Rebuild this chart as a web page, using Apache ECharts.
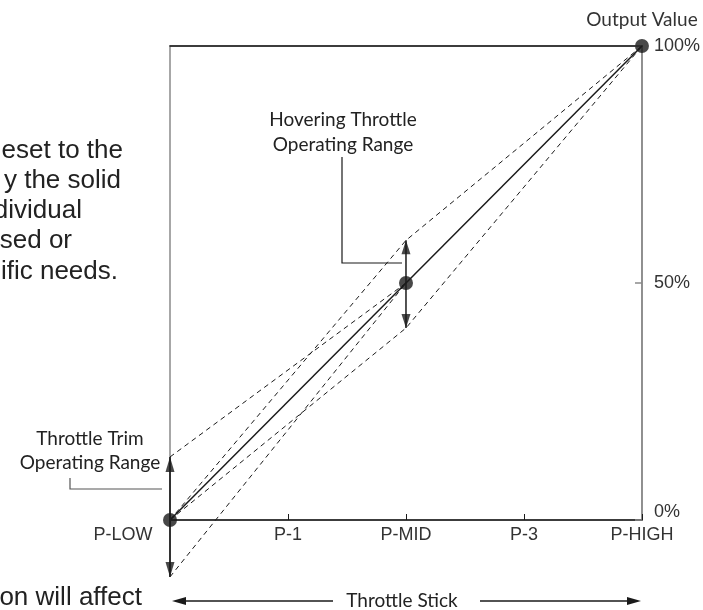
<!DOCTYPE html>
<html>
<head>
<meta charset="utf-8">
<script src="https://cdn.jsdelivr.net/npm/echarts@6/dist/echarts.min.js"></script>
<style>
  html, body { margin: 0; padding: 0; background: #fff; }
  #main { width: 703px; height: 610px; }
</style>
</head>
<body>
<div id="main"></div>
<script>
  // stick positions (x axis) and output ticks (y axis)
  const stickLabels = ['P-LOW', 'P-1', 'P-MID', 'P-3', 'P-HIGH'];
  const outputTicks = { 0: '0%', 50: '50%', 100: '100%' };

  // curves: [stick index, output %]
  const presetCurve = [[0, 0], [4, 100]];
  const curvePoints = [[0, 0], [2, 50], [4, 100]];
  const hoverUpCurve = [[0, 0], [2, 59], [4, 100]];
  const hoverDownCurve = [[0, 0], [2, 40.5], [4, 100]];
  const trimUpCurve = [[0, 13.3], [2, 50]];
  const trimDownCurve = [[0, -12], [2, 50]];

  // operating ranges (arrow ends)
  const hoverRange = [40.5, 59];   // at P-MID
  const trimRange = [-12, 13.3];   // at P-LOW

  const ink = '#1a1a1a';
  const labelFont = 'Lato, "Liberation Sans", sans-serif';
  const axisFont = '"Liberation Sans", Arial, sans-serif';
  const bodyFont = '26px "Liberation Sans", Arial, sans-serif';

  const chart = echarts.init(document.getElementById('main'));

  const dashed = (data) => ({
    type: 'line', data: data, showSymbol: false, clip: false, silent: true,
    lineStyle: { color: ink, width: 1, type: [5, 4] }, z: 3
  });

  const tip = (x, y, up, w, h) => ({
    value: [x, y],
    symbolSize: [w, h],
    symbolRotate: up ? 0 : 180,
    symbolOffset: [0, up ? '50%' : '-50%']
  });

  // paragraph fragments, right edge + centre y
  const bodyText = (text, x, y) => ({
    type: 'text', x: x, y: y,
    style: { text: text, align: 'right', verticalAlign: 'middle', font: bodyFont, fill: '#222' }
  });
  const label = (text, x, y) => ({
    type: 'text', x: x, y: y,
    style: { text: text, align: 'center', verticalAlign: 'middle', font: '19px ' + labelFont, fill: '#222' }
  });

  const option = {
    animation: false,
    grid: { left: 170, right: 60, top: 46, bottom: 90, show: true, borderColor: '#8a8a8a', borderWidth: 1.5 },
    xAxis: [{
      type: 'value', min: 0, max: 4, interval: 1,
      axisLine: { onZero: false, lineStyle: { color: ink, width: 1.5 } },
      axisTick: { inside: true, length: 6, lineStyle: { color: ink, width: 1 } },
      splitLine: { show: false },
      axisLabel: {
        margin: 6, fontSize: 18, color: '#333', fontFamily: axisFont,
        formatter: v => v === 0 ? '{lo|' + stickLabels[0] + '}' : stickLabels[v],
        rich: { lo: { fontSize: 18, color: '#333', fontFamily: axisFont, padding: [0, 94, 0, 0] } }
      }
    }, {
      type: 'value', min: 0, max: 4, position: 'top',
      axisLine: { onZero: false, lineStyle: { color: ink, width: 1.5 } },
      axisTick: { show: false }, axisLabel: { show: false }, splitLine: { show: false }
    }],
    yAxis: {
      type: 'value', min: 0, max: 100, interval: 50, position: 'right',
      name: 'Output Value', nameLocation: 'end', nameGap: 17,
      nameTextStyle: { fontSize: 19, color: '#333', fontFamily: labelFont, align: 'center' },
      axisLine: { show: true, onZero: false, lineStyle: { color: '#8a8a8a', width: 1.5 } },
      axisTick: { show: true, inside: true, length: 7, lineStyle: { color: '#8a8a8a', width: 1.5 } },
      splitLine: { show: false },
      axisLabel: {
        margin: 12, fontSize: 18, color: '#333', fontFamily: axisFont,
        formatter: v => v === 0 ? '{lo|' + outputTicks[0] + '}' : outputTicks[v],
        rich: { lo: { fontSize: 18, color: '#333', fontFamily: axisFont, padding: [0, 0, 16, 0] } }
      }
    },
    series: [
      dashed(hoverUpCurve),
      dashed(hoverDownCurve),
      dashed(trimUpCurve),
      dashed(trimDownCurve),
      {
        type: 'line', data: presetCurve, showSymbol: false, clip: false, silent: true,
        lineStyle: { color: ink, width: 1.5 }, z: 4
      },
      {
        type: 'line', data: [[2, hoverRange[0]], [2, hoverRange[1]]], showSymbol: false, clip: false,
        lineStyle: { color: ink, width: 1.5 }, z: 5
      },
      {
        type: 'line', data: [[0, trimRange[0]], [0, trimRange[1]]], showSymbol: false, clip: false,
        lineStyle: { color: '#333', width: 2 }, z: 5
      },
      {
        type: 'scatter', clip: false, symbol: 'triangle', z: 6,
        itemStyle: { color: ink },
        data: [
          tip(2, hoverRange[1], true, 9, 14), tip(2, hoverRange[0], false, 9, 14),
          tip(0, trimRange[1], true, 9, 15), tip(0, trimRange[0], false, 9, 15)
        ]
      },
      {
        type: 'scatter', clip: false, symbol: 'circle', symbolSize: 14, z: 7,
        itemStyle: { color: ink }, data: curvePoints
      }
    ],
    graphic: [
      // paragraph text cut off at the left edge
      bodyText('eset to the', 123, 151),
      bodyText('y the solid', 121, 181),
      bodyText('dividual', 82, 211),
      bodyText('sed or', 72, 241),
      bodyText('ific needs.', 118, 272),
      bodyText('on will affect', 142, 598),

      // hovering throttle label + leader
      label('Hovering Throttle', 343, 120),
      label('Operating Range', 343, 145),
      { type: 'polyline', shape: { points: [[342, 157], [342, 263], [402, 263]] }, style: { stroke: ink, lineWidth: 1.2, fill: null } },

      // throttle trim label + leader
      label('Throttle Trim', 90, 439),
      label('Operating Range', 90, 463),
      { type: 'polyline', shape: { points: [[70, 478], [70, 489], [162, 489]] }, style: { stroke: '#555', lineWidth: 1.2, fill: null } },

      // throttle stick arrow
      label('Throttle Stick', 402, 601),
      { type: 'line', shape: { x1: 180, y1: 601, x2: 333, y2: 601 }, style: { stroke: ink, lineWidth: 1.3 } },
      { type: 'line', shape: { x1: 480, y1: 601, x2: 630, y2: 601 }, style: { stroke: ink, lineWidth: 1.3 } },
      { type: 'polygon', shape: { points: [[172, 601], [186, 597], [186, 605]] }, style: { fill: ink } },
      { type: 'polygon', shape: { points: [[641, 601], [627, 597], [627, 605]] }, style: { fill: ink } }
    ]
  };

  chart.setOption(option);
</script>
</body>
</html>
